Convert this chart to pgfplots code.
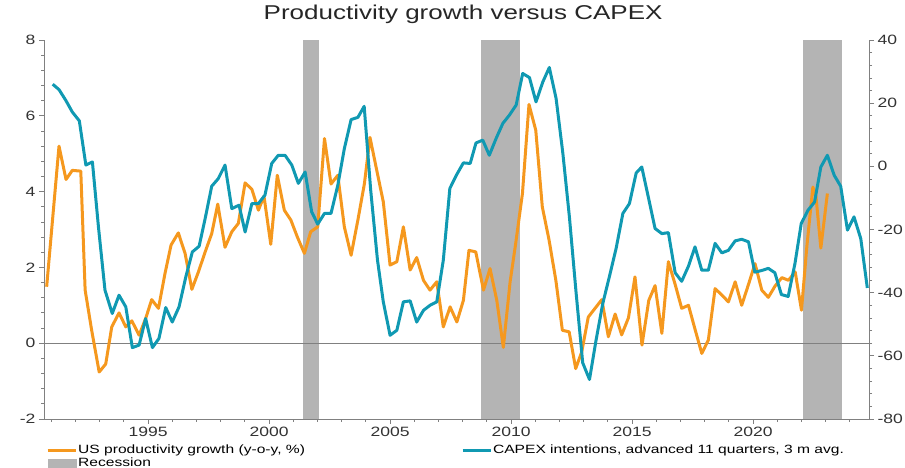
\documentclass[border=0pt]{standalone}
\usepackage{fontspec}
\setmainfont{Liberation Sans}[FakeStretch=1.3]
\usepackage{pgfplots}
\pgfplotsset{compat=1.18}
\definecolor{orangeL}{RGB}{245,152,30}
\definecolor{tealL}{RGB}{16,153,178}
\definecolor{recgray}{RGB}{180,180,180}
\definecolor{axgray}{RGB}{128,128,128}

\pgfplotstableread{
x y
1990.81 1.49
1991.32 5.20
1991.61 4.32
1991.87 4.56
1992.22 4.54
1992.40 1.40
1992.67 0.34
1992.98 -0.76
1993.25 -0.55
1993.50 0.43
1993.80 0.80
1994.08 0.43
1994.33 0.59
1994.63 0.21
1994.90 0.65
1995.15 1.15
1995.43 0.92
1995.70 1.84
1995.95 2.59
1996.25 2.91
1996.53 2.37
1996.81 1.42
1997.08 1.88
1997.36 2.41
1997.63 2.89
1997.88 3.67
1998.18 2.53
1998.46 2.94
1998.73 3.16
1999.01 4.23
1999.29 4.06
1999.56 3.51
1999.79 3.88
2000.07 2.61
2000.34 4.43
2000.63 3.51
2000.90 3.25
2001.17 2.80
2001.46 2.37
2001.72 2.94
2002.01 3.07
2002.29 5.40
2002.56 4.20
2002.84 4.43
2003.11 3.07
2003.39 2.32
2003.67 3.25
2003.94 4.21
2004.17 5.43
2004.45 4.56
2004.72 3.73
2005.00 2.06
2005.28 2.15
2005.55 3.07
2005.83 1.93
2006.10 2.26
2006.38 1.66
2006.65 1.40
2006.93 1.62
2007.20 0.43
2007.48 0.96
2007.76 0.56
2008.03 1.13
2008.26 2.45
2008.54 2.41
2008.86 1.40
2009.13 1.97
2009.41 1.13
2009.68 -0.11
2009.96 1.62
2010.19 2.63
2010.47 3.95
2010.74 6.30
2011.02 5.62
2011.29 3.60
2011.57 2.72
2011.85 1.66
2012.12 0.34
2012.40 0.30
2012.67 -0.67
2012.92 -0.23
2013.19 0.69
2013.47 0.92
2013.75 1.15
2014.02 0.17
2014.30 0.77
2014.57 0.22
2014.85 0.67
2015.12 1.75
2015.41 -0.05
2015.69 1.13
2015.95 1.52
2016.23 0.26
2016.50 2.15
2016.78 1.55
2017.05 0.92
2017.33 1.00
2017.60 0.37
2017.88 -0.27
2018.15 0.08
2018.43 1.44
2018.71 1.27
2018.98 1.09
2019.26 1.62
2019.53 1.00
2019.81 1.55
2020.08 2.10
2020.36 1.40
2020.63 1.21
2020.91 1.51
2021.19 1.73
2021.46 1.66
2021.74 1.88
2022.00 0.87
2022.22 2.54
2022.47 4.12
2022.60 3.86
2022.80 2.51
2023.07 3.95
}\prodtable

\pgfplotstableread{
x y
1991.06 26.0
1991.32 24.3
1991.60 20.9
1991.87 17.2
1992.16 14.4
1992.43 0.4
1992.70 1.4
1992.95 -19.2
1993.22 -39.2
1993.52 -46.6
1993.80 -40.8
1994.08 -44.5
1994.35 -57.4
1994.63 -56.6
1994.90 -48.2
1995.18 -57.4
1995.45 -54.5
1995.73 -44.7
1996.00 -49.3
1996.28 -44.5
1996.56 -35.0
1996.83 -27.1
1997.11 -25.3
1997.36 -16.5
1997.63 -6.3
1997.90 -3.9
1998.18 0.4
1998.46 -13.4
1998.76 -12.3
1999.01 -20.8
1999.29 -11.8
1999.56 -11.8
1999.83 -9.1
2000.11 0.9
2000.38 3.5
2000.66 3.5
2000.94 0.4
2001.21 -5.4
2001.49 -1.8
2001.76 -14.4
2002.01 -18.3
2002.29 -14.9
2002.56 -14.9
2002.84 -6.0
2003.11 5.6
2003.39 14.8
2003.67 15.5
2003.93 19.0
2004.20 -7.6
2004.48 -29.7
2004.72 -42.9
2005.00 -53.5
2005.28 -51.9
2005.55 -42.9
2005.83 -42.6
2006.10 -49.3
2006.38 -45.6
2006.65 -44.0
2006.93 -42.9
2007.20 -29.7
2007.47 -7.0
2007.74 -2.8
2008.03 1.1
2008.31 0.9
2008.55 7.4
2008.83 8.3
2009.10 3.5
2009.38 8.8
2009.66 13.6
2009.93 16.2
2010.21 19.4
2010.48 29.4
2010.76 28.1
2011.03 20.4
2011.31 26.7
2011.58 31.3
2011.86 21.5
2012.14 4.1
2012.41 -16.0
2012.69 -40.3
2012.96 -62.2
2013.24 -67.5
2013.51 -55.1
2013.79 -43.4
2014.06 -35.0
2014.34 -26.0
2014.62 -14.9
2014.89 -11.8
2015.17 -2.1
2015.40 -0.2
2015.67 -9.7
2015.95 -19.7
2016.23 -21.3
2016.50 -21.0
2016.78 -33.7
2017.05 -36.4
2017.33 -31.6
2017.60 -25.5
2017.88 -32.9
2018.15 -32.9
2018.43 -24.4
2018.71 -27.4
2018.98 -26.6
2019.26 -23.6
2019.53 -23.1
2019.81 -23.9
2020.07 -33.5
2020.35 -33.0
2020.63 -32.3
2020.90 -33.7
2021.17 -40.6
2021.45 -41.2
2021.73 -30.8
2021.99 -18.1
2022.27 -13.9
2022.54 -11.3
2022.80 -0.2
2023.07 3.5
2023.35 -2.8
2023.62 -6.3
2023.90 -20.2
2024.17 -16.0
2024.45 -22.9
2024.72 -38.5
}\capextable

\begin{document}
\begin{tikzpicture}
\pgfplotsset{
  every axis/.append style={
    scale only axis, width=825pt, height=379pt,
    xmin=1990.70, xmax=2024.79,
    /pgf/number format/assume math mode=true,
    /pgf/number format/1000 sep={},
    tick label style={font=\fontsize{13.5}{15}\selectfont, color=black!80},
    axis line style={axgray, line width=0.8pt},
    tick style={axgray, line width=0.8pt},
    tick align=outside,
    major tick length=5pt, minor tick length=3pt,
  }
}
\begin{axis}[
  axis x line*=bottom, axis y line*=left,
  ymin=-2, ymax=8, ytick={-2,0,...,8}, minor y tick num=4,
  xtick={1995,2000,...,2020}, minor xtick={1991,...,2024},
  title={Productivity growth versus CAPEX},
  title style={at={(0.508,1)}, anchor=base, yshift=14pt, font=\fontsize{20}{24}\selectfont, color=black!85},
]
\addplot[fill=recgray, draw=none, forget plot] coordinates {(2001.39,-2) (2001.39,8) (2002.07,8) (2002.07,-2)} -- cycle;
\addplot[fill=recgray, draw=none, forget plot] coordinates {(2008.76,-2) (2008.76,8) (2010.37,8) (2010.37,-2)} -- cycle;
\addplot[fill=recgray, draw=none, forget plot] coordinates {(2022.08,-2) (2022.08,8) (2023.69,8) (2023.69,-2)} -- cycle;
\addplot[axgray, line width=1pt, forget plot] coordinates {(1990.70,0) (2024.79,0)};
\addplot[orangeL, line width=3pt, line join=round] table[x=x,y=y] {\prodtable};
\end{axis}
\begin{axis}[
  axis y line*=right, axis x line=none,
  ymin=-80, ymax=40, ytick={-80,-60,...,40}, minor y tick num=4,
  legend columns=2,
  legend cell align=left,
  legend style={draw=none, fill=none, at={(0,0)}, anchor=north west, xshift=2pt, yshift=-25pt,
    font=\fontsize{12}{13}\selectfont, inner sep=0pt,
    nodes={inner sep=1pt, text height=8.5pt, text depth=2.5pt},
    /tikz/column 2/.style={column sep=155pt}},
]
\addlegendimage{legend image code/.code={\draw[orangeL, line width=3pt] (0pt,0pt) -- (28pt,0pt);}}
\addlegendentry{US productivity growth (y-o-y, \%)}
\addplot[tealL, line width=3pt, line join=round, legend image code/.code={\draw[tealL, line width=3pt] (0pt,0pt) -- (28pt,0pt);}] table[x=x,y=y] {\capextable};
\addlegendentry{CAPEX intentions, advanced 11 quarters, 3 m avg.}
\addlegendimage{legend image code/.code={\fill[recgray] (0pt,-4.5pt) rectangle (28pt,4.5pt);}}
\addlegendentry{Recession}
\end{axis}
\pgfresetboundingbox
\path[use as bounding box] (-44pt,-49pt) rectangle (861pt,419pt);
\end{tikzpicture}
\end{document}
